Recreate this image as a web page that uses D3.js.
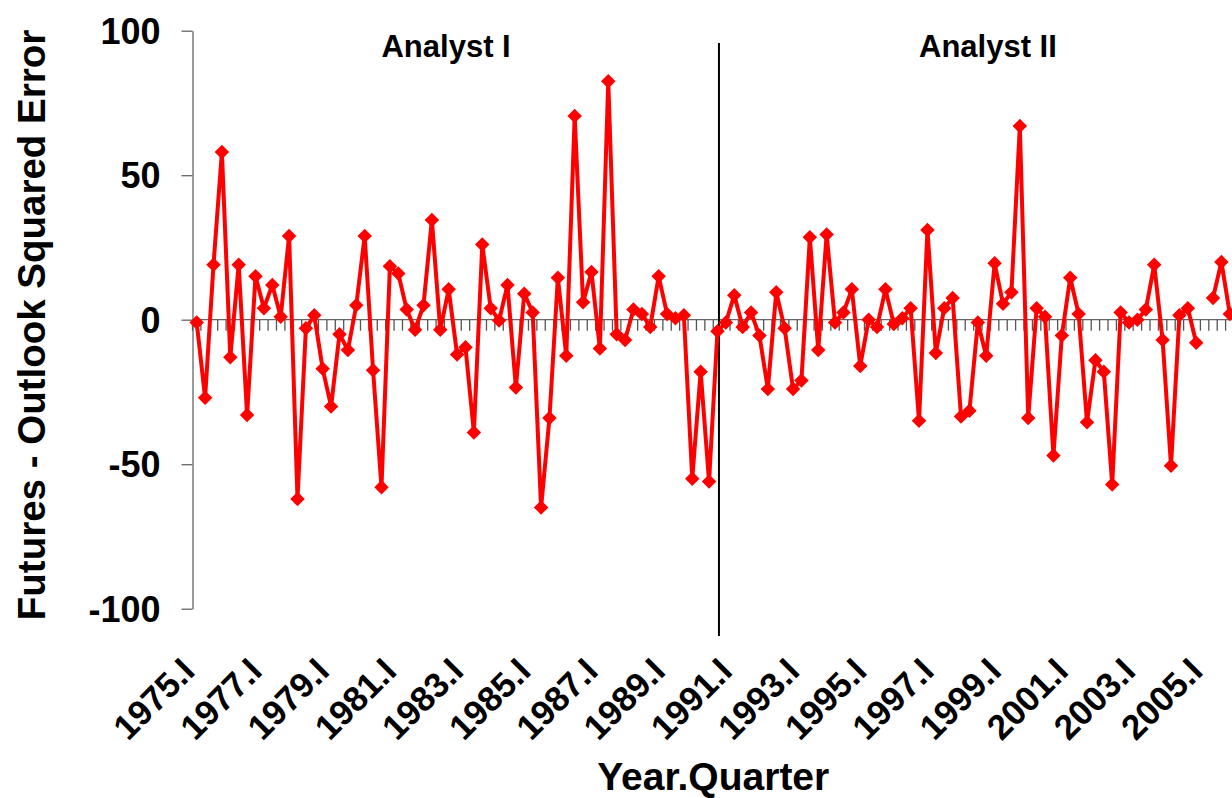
<!DOCTYPE html>
<html>
<head>
<meta charset="utf-8">
<script src="https://cdn.jsdelivr.net/npm/d3@7"></script>
<style>
  body { margin: 0; background: #fff; }
  svg { display: block; font-family: "Liberation Sans", Arial, sans-serif; font-weight: bold; }
</style>
</head>
<body>
<div id="chart"></div>
<script>
// Category axis: one entry per quarter
const firstYear = 1975;
const lastYear = 2005;
const quarterNames = ["I", "II", "III", "IV"];

// Futures - Outlook squared error, 1975.I - 1990.III
const analystOne = [
    -1, -27, 19, 58,
    -13, 19, -33, 15,
    4, 12, 1, 29,
    -62, -3, 1.5, -17,
    -30, -5, -10.5, 5,
    29, -17.5, -58, 18.5,
    16, 3.5, -3.5, 5,
    34.5, -3.5, 10.5, -12,
    -9.5, -39, 26, 4,
    -0.3, 12, -23.5, 9,
    2.5, -65, -34, 14.5,
    -12.5, 70.5, 6, 16.5,
    -10, 82.5, -5, -7,
    3.5, 2, -2.5, 15,
    2, 0.5, 1.5, -55,
    -18, -56, -4
];

// Futures - Outlook squared error, 1990.IV - 2005.IV (2005.I missing)
const analystTwo = [
    -1,
    8.5, -2.5, 2.5, -5.5,
    -24, 9.5, -3, -24,
    -21, 28.5, -10.5, 29.5,
    -1, 2.5, 10.5, -16,
    0, -2.5, 10.5, -1.5,
    0.5, 4, -35, 31,
    -11.5, 4, 7.5, -33.5,
    -31.5, -1, -12.5, 19.5,
    5.5, 9.5, 67, -34,
    4, 1, -47, -5.5,
    14.5, 2, -35.5, -14,
    -18, -57, 2.5, -1,
    0, 3.5, 19, -7,
    -50.5, 1.5, 4, -8,
    null, 7.5, 20, 2
];

const yTicks = [-100, -50, 0, 50, 100];
const panelLabels = [
    { text: "Analyst I", at: "1980.III" },
    { text: "Analyst II", at: "1996.III" }
];

function createChart() {
    const width = 1232;
    const height = 798;
    const margin = { top: 30.7, right: -2, bottom: 189.3, left: 192.5 };

    // Build the quarter labels and join them to the values
    const quarters = [];
    for (let year = firstYear; year <= lastYear; year++) {
        quarterNames.forEach(q => quarters.push(year + "." + q));
    }
    const values = analystOne.concat(analystTwo);
    const data = quarters.map((q, i) => ({ quarter: q, value: values[i] }));
    const lastOfAnalystOne = quarters[analystOne.length - 1];

    const svg = d3.select("#chart").append("svg")
        .attr("width", width)
        .attr("height", height);

    const x = d3.scaleBand()
        .domain(quarters)
        .range([margin.left, width - margin.right])
        .paddingInner(0)
        .paddingOuter(0);

    const y = d3.scaleLinear()
        .domain([-100, 100])
        .range([height - margin.bottom, margin.top]);

    const cx = q => x(q) + x.bandwidth() / 2;

    // Y axis (plain hyphen for negatives, like the original)
    const yAxis = svg.append("g")
        .attr("transform", `translate(${margin.left},0)`)
        .call(d3.axisLeft(y)
            .tickValues(yTicks)
            .tickFormat(d => String(d))
            .tickSize(11)
            .tickSizeOuter(0)
            .tickPadding(21));
    yAxis.select(".domain").attr("stroke", "#666").attr("stroke-width", 1.3);
    yAxis.selectAll(".tick line").attr("stroke", "#666").attr("stroke-width", 1.3);
    yAxis.selectAll(".tick text")
        .attr("fill", "#000")
        .attr("font-size", 36)
        .attr("font-family", "Liberation Sans, Arial, sans-serif")
        .attr("font-weight", "bold")
        .attr("dy", "0.35em");

    // Zero line with tick marks between the quarters
    const y0 = y(0);
    svg.append("line")
        .attr("x1", margin.left)
        .attr("x2", width - margin.right)
        .attr("y1", y0)
        .attr("y2", y0)
        .attr("stroke", "#666")
        .attr("stroke-width", 1.3);

    svg.selectAll(".qtick")
        .data(quarters.concat(["end"]))
        .enter().append("line")
        .attr("class", "qtick")
        .attr("x1", d => d === "end" ? x.range()[1] : x(d))
        .attr("x2", d => d === "end" ? x.range()[1] : x(d))
        .attr("y1", y0)
        .attr("y2", y0 + 11)
        .attr("stroke", "#555")
        .attr("stroke-width", 1.3);

    // Quarter labels every two years, rotated
    svg.selectAll(".qlabel")
        .data(quarters.filter((q, i) => i % 8 === 0))
        .enter().append("text")
        .attr("class", "qlabel")
        .attr("transform", d => `translate(${cx(d)},673) rotate(-45)`)
        .attr("text-anchor", "end")
        .attr("font-size", 35)
        .attr("fill", "#000")
        .text(d => d);

    // Divider between the two analysts
    svg.append("line")
        .attr("x1", cx(lastOfAnalystOne) + 1.5)
        .attr("x2", cx(lastOfAnalystOne) + 1.5)
        .attr("y1", 43)
        .attr("y2", 636)
        .attr("stroke", "#000")
        .attr("stroke-width", 2);

    // Panel titles
    svg.selectAll(".panel")
        .data(panelLabels)
        .enter().append("text")
        .attr("class", "panel")
        .attr("x", d => cx(d.at))
        .attr("y", 57)
        .attr("font-size", 31)
        .attr("fill", "#000")
        .text(d => d.text);

    // Series line, broken where a quarter is missing
    const line = d3.line()
        .defined(d => d.value != null)
        .x(d => cx(d.quarter))
        .y(d => y(d.value));

    svg.append("path")
        .datum(data)
        .attr("fill", "none")
        .attr("stroke", "#ff0000")
        .attr("stroke-width", 4)
        .attr("stroke-linejoin", "round")
        .attr("d", line);

    // Diamond markers
    svg.selectAll(".marker")
        .data(data.filter(d => d.value != null))
        .enter().append("path")
        .attr("class", "marker")
        .attr("d", d3.symbol(d3.symbolSquare, 105))
        .attr("transform", d => `translate(${cx(d.quarter)},${y(d.value)}) rotate(45)`)
        .attr("fill", "#ff0000");

    // Axis titles
    svg.append("text")
        .attr("x", (x.range()[0] + x.range()[1]) / 2)
        .attr("y", 790)
        .attr("text-anchor", "middle")
        .attr("font-size", 39)
        .attr("fill", "#000")
        .text("Year.Quarter");

    svg.append("text")
        .attr("transform", "translate(45,325) rotate(-90)")
        .attr("text-anchor", "middle")
        .attr("font-size", 38.5)
        .attr("fill", "#000")
        .text("Futures - Outlook Squared Error");
}

createChart();
</script>
</body>
</html>
